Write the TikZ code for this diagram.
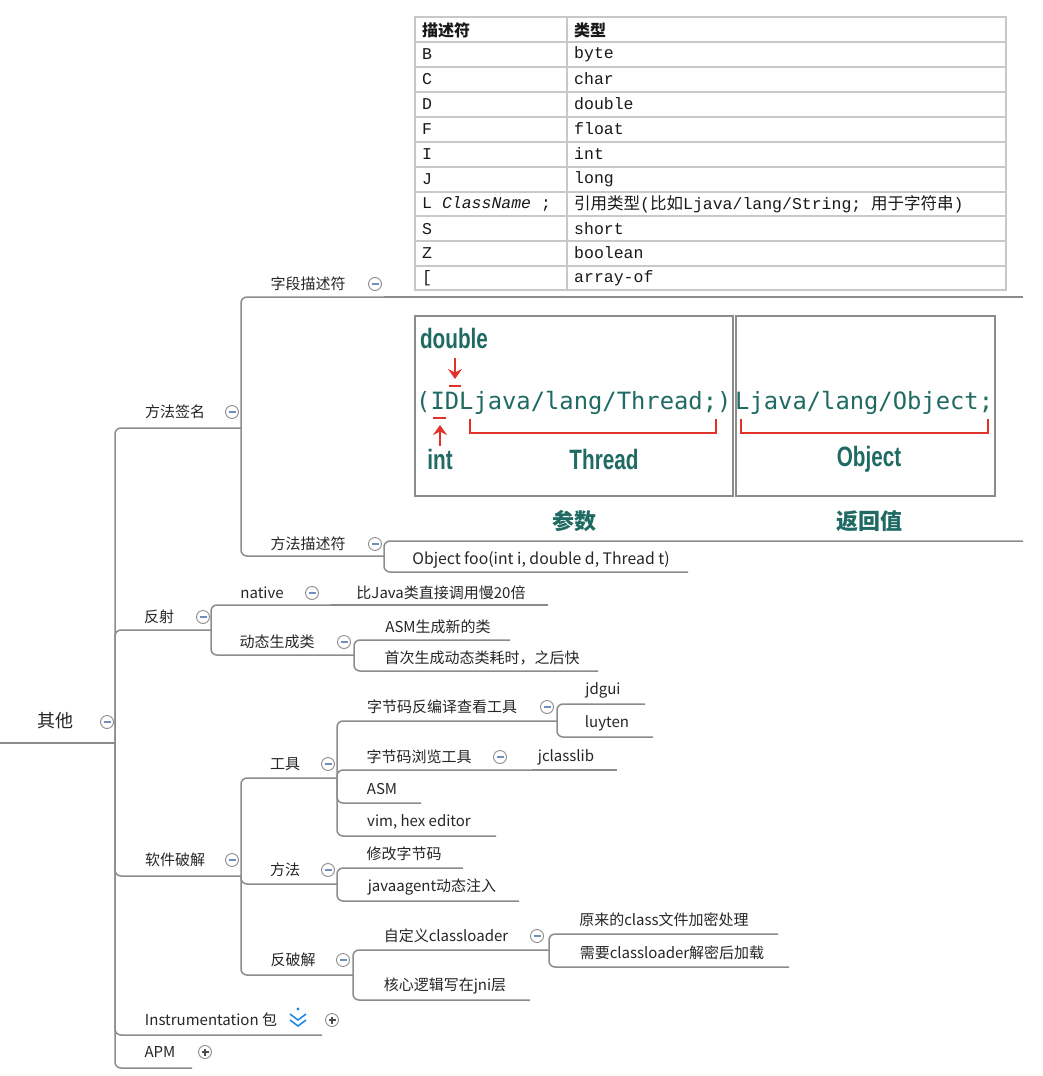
\documentclass[tikz,border=0pt]{standalone}
\usepackage{fontspec}
\setmainfont{Noto Sans CJK SC}
\newfontfamily\tabmono{Liberation Mono}
\newfontfamily\sigmono{DejaVu Sans Mono}
\newfontfamily\heavy{Liberation Sans}
\usepackage{tikz}
\usetikzlibrary{arrows, arrows.meta}
\definecolor{linegray}{HTML}{8C8C8C}
\definecolor{foldblue}{HTML}{6F8FBF}
\definecolor{sigteal}{HTML}{1F6B63}
\definecolor{sigred}{HTML}{E0322B}
\definecolor{tabline}{HTML}{C8C8C8}
\definecolor{iconblue}{HTML}{1E88E5}
\newcommand\sigword[1]{\scalebox{0.74}[1]{#1}}

\begin{document}
\begin{tikzpicture}[x=1pt, y=-1pt]
        \tikzset{topic/.style = {inner sep=0, text=black!85, font=\fontsize{15}{17}\selectfont}}
        \tikzset{link/.style = {draw=linegray, line width=1.5pt, rounded corners=6pt}}
        \tikzset{fold/.style = {shape=circle, draw=linegray, fill=white, line width=0.9pt, minimum size=13pt, inner sep=0,
            path picture={\draw[foldblue, line width=1.2pt] ([xshift=-3.5pt]path picture bounding box.center) -- ([xshift=3.5pt]path picture bounding box.center);}}}
        \tikzset{unfold/.style = {fold,
            path picture={\draw[black!70, line width=1.1pt] ([xshift=-3.5pt]path picture bounding box.center) -- ([xshift=3.5pt]path picture bounding box.center)
              ([yshift=-3.5pt]path picture bounding box.center) -- ([yshift=3.5pt]path picture bounding box.center);}}}
        \tikzset{cell/.style = {anchor=west, inner sep=0, text=black!90, font=\tabmono\fontsize{16.5}{18}\selectfont}}
        \tikzset{sigbold/.style = {inner sep=0, text=sigteal, font=\heavy\bfseries\fontsize{28}{30}\selectfont}}
        \tikzset{sigcode/.style = {anchor=west, inner sep=0, text=sigteal, font=\sigmono\fontsize{23.8}{26}\selectfont}}
        \tikzset{redline/.style = {draw=sigred, line width=2.6pt}}
        \tikzset{redarrow/.style = {redline, -{Stealth[length=10pt, width=14pt, inset=3.5pt]}}}

        \useasboundingbox (0,0) rectangle (1042,1076);
        \path[fill=white] (0,0) rectangle (1042,1076);

        % field descriptor table
        \draw[tabline, line width=1.5pt] (415,17) rectangle (1006,290) (567,17) -- (567,290)
          (415,42) -- (1006,42) (415,67) -- (1006,67) (415,92) -- (1006,92) (415,117) -- (1006,117)
          (415,142) -- (1006,142) (415,167) -- (1006,167) (415,192) -- (1006,192) (415,216) -- (1006,216)
          (415,241) -- (1006,241) (415,266) -- (1006,266);
        \node[cell, font=\bfseries\fontsize{16}{18}\selectfont] (h1) at (422,30) {描述符};
        \node[cell, font=\bfseries\fontsize{16}{18}\selectfont] (h2) at (574,30) {类型};
        \node[cell] (d1) at (422,54) {B};      \node[cell] (t1) at (574,54) {byte};
        \node[cell] (d2) at (422,79) {C};      \node[cell] (t2) at (574,79) {char};
        \node[cell] (d3) at (422,104) {D};     \node[cell] (t3) at (574,104) {double};
        \node[cell] (d4) at (422,129) {F};     \node[cell] (t4) at (574,129) {float};
        \node[cell] (d5) at (422,154) {I};     \node[cell] (t5) at (574,154) {int};
        \node[cell] (d6) at (422,179) {J};     \node[cell] (t6) at (574,179) {long};
        \node[cell] (d7) at (422,204) {L \textit{ClassName} ;};
        \node[cell] (t7) at (574,204) {{\rmfamily\fontsize{16.5}{18}\selectfont 引用类型}({\rmfamily\fontsize{16.5}{18}\selectfont 比如}Ljava/lang/String; {\rmfamily\fontsize{16.5}{18}\selectfont 用于字符串})};
        \node[cell] (d8) at (422,229) {S};     \node[cell] (t8) at (574,229) {short};
        \node[cell] (d9) at (422,253) {Z};     \node[cell] (t9) at (574,253) {boolean};
        \node[cell] (d10) at (422,278) {[};    \node[cell] (t10) at (574,278) {array-of};

        % method signature picture
        \draw[linegray, line width=2pt] (415,316) rectangle (733,496) (736,316) rectangle (995,496);
        \node[sigcode] (args) at (416,403) {(IDLjava/lang/Thread;)};
        \node[sigcode] (ret) at (735,403) {Ljava/lang/Object;};
        \node[sigbold] (wdouble) at (454,338) {\sigword{double}};
        \node[sigbold] (wint) at (440,459) {\sigword{int}};
        \node[sigbold] (wthread) at (604,459) {\sigword{Thread}};
        \node[sigbold] (wobject) at (869,459) {\sigword{Object}};
        \draw[redarrow] (455,358) -- (455,379);
        \draw[redline] (449,386) -- (461,386);
        \draw[redarrow] (440,446) -- (440,425);
        \draw[redline] (433,418) -- (446,418);
        \draw[redline] (470,419) -- (470,433) -- (716,433) -- (716,419);
        \draw[redline] (741,419) -- (741,433) -- (988,433) -- (988,419);
        \node[inner sep=0, text=sigteal, font=\bfseries\fontsize{22}{24}\selectfont] (wargs) at (574,521) {参数};
        \node[inner sep=0, text=sigteal, font=\bfseries\fontsize{22}{24}\selectfont] (wret) at (869,521) {返回值};

        % tree
        \coordinate (root-s) at (0,743);
        \coordinate (root-e) at (115,743);
        \coordinate (msig-e) at (241,428);
        \coordinate (field-e) at (384,297);
        \coordinate (table-e) at (1023,297);
        \coordinate (mdesc-e) at (384,556);
        \coordinate (pic-e) at (1023,541);
        \coordinate (foo-e) at (688,572);
        \coordinate (refl-e) at (211,630);
        \coordinate (native-e) at (330,605);
        \coordinate (slow-e) at (548,605);
        \coordinate (dyn-e) at (354,655);
        \coordinate (asmgen-e) at (510,640);
        \coordinate (first-e) at (598,671);
        \coordinate (crack-e) at (241,876);
        \coordinate (tools-e) at (337,778);
        \coordinate (decomp-e) at (557,721);
        \coordinate (jdgui-e) at (645,704);
        \coordinate (luyten-e) at (653,737);
        \coordinate (browse-e) at (532,770);
        \coordinate (jcl-e) at (617,770);
        \coordinate (asm-e) at (421,803);
        \coordinate (vim-e) at (496,836);
        \coordinate (method-e) at (337,884);
        \coordinate (modify-e) at (463,868);
        \coordinate (agent-e) at (519,901);
        \coordinate (anti-e) at (353,975);
        \coordinate (custom-e) at (549,950);
        \coordinate (encrypt-e) at (778,934);
        \coordinate (decrypt-e) at (789,967);
        \coordinate (jni-e) at (530,1000);
        \coordinate (instr-e) at (322,1035);
        \coordinate (apm-e) at (192,1068);

        \draw[link] (root-s) -- (root-e);
        \draw[link] (root-e) |- (msig-e);
        \draw[link] (root-e) |- (refl-e);
        \draw[link] (root-e) |- (crack-e);
        \draw[link] (root-e) |- (instr-e);
        \draw[link] (root-e) |- (apm-e);
        \draw[link] (msig-e) |- (field-e);
        \draw[link] (field-e) -- (table-e);
        \draw[link] (msig-e) |- (mdesc-e);
        \draw[link] (mdesc-e) |- (pic-e);
        \draw[link] (mdesc-e) |- (foo-e);
        \draw[link] (refl-e) |- (native-e);
        \draw[link] (native-e) -- (slow-e);
        \draw[link] (refl-e) |- (dyn-e);
        \draw[link] (dyn-e) |- (asmgen-e);
        \draw[link] (dyn-e) |- (first-e);
        \draw[link] (crack-e) |- (tools-e);
        \draw[link] (crack-e) |- (method-e);
        \draw[link] (crack-e) |- (anti-e);
        \draw[link] (tools-e) |- (decomp-e);
        \draw[link] (decomp-e) |- (jdgui-e);
        \draw[link] (decomp-e) |- (luyten-e);
        \draw[link] (tools-e) |- (browse-e);
        \draw[link] (browse-e) -- (jcl-e);
        \draw[link] (tools-e) |- (asm-e);
        \draw[link] (tools-e) |- (vim-e);
        \draw[link] (method-e) |- (modify-e);
        \draw[link] (method-e) |- (agent-e);
        \draw[link] (anti-e) |- (custom-e);
        \draw[link] (custom-e) |- (encrypt-e);
        \draw[link] (custom-e) |- (decrypt-e);
        \draw[link] (anti-e) |- (jni-e);

        \node[topic, font=\fontsize{18}{20}\selectfont] (root) at (55,721) {其他};
        \node[topic] (msig) at (175,412) {方法签名};
        \node[topic] (field) at (308,284) {字段描述符};
        \node[topic] (mdesc) at (308,544) {方法描述符};
        \node[topic, font=\fontsize{15.8}{17}\selectfont] (foo) at (541,560) {Object foo(int i, double d, Thread t)};
        \node[topic] (refl) at (159,617) {反射};
        \node[topic] (native) at (262,593) {native};
        \node[topic] (slow) at (441,593) {比Java类直接调用慢20倍};
        \node[topic] (dyn) at (277,642) {动态生成类};
        \node[topic] (asmgen) at (438,627) {ASM生成新的类};
        \node[topic] (first) at (482,658) {首次生成动态类耗时，之后快};
        \node[topic] (crack) at (175,860) {软件破解};
        \node[topic] (tools) at (285,764) {工具};
        \node[topic] (decomp) at (442,707) {字节码反编译查看工具};
        \node[topic] (jdgui) at (603,690) {jdgui};
        \node[topic] (luyten) at (607,723) {luyten};
        \node[topic] (browse) at (419,757) {字节码浏览工具};
        \node[topic] (jcl) at (566,757) {jclasslib};
        \node[topic] (asm) at (382,789) {ASM};
        \node[topic] (vim) at (419,822) {vim, hex editor};
        \node[topic] (method) at (285,870) {方法};
        \node[topic] (modify) at (404,854) {修改字节码};
        \node[topic] (agent) at (432,887) {javaagent动态注入};
        \node[topic] (anti) at (293,960) {反破解};
        \node[topic] (custom) at (446,936) {自定义classloader};
        \node[topic] (encrypt) at (664,920) {原来的class文件加密处理};
        \node[topic] (decrypt) at (672,953) {需要classloader解密后加载};
        \node[topic] (jni) at (445,986) {核心逻辑写在jni层};
        \node[topic] (instr) at (211,1020) {Instrumentation 包};
        \node[topic] (apm) at (160,1052) {APM};

        \node[fold] (root-f) at (107,722) {};
        \node[fold] (msig-f) at (232,412) {};
        \node[fold] (field-f) at (375,284) {};
        \node[fold] (mdesc-f) at (375,544) {};
        \node[fold] (refl-f) at (203,617) {};
        \node[fold] (native-f) at (312,593) {};
        \node[fold] (dyn-f) at (344,642) {};
        \node[fold] (crack-f) at (232,860) {};
        \node[fold] (tools-f) at (328,764) {};
        \node[fold] (decomp-f) at (547,707) {};
        \node[fold] (browse-f) at (500,757) {};
        \node[fold] (method-f) at (328,870) {};
        \node[fold] (anti-f) at (343,960) {};
        \node[fold] (custom-f) at (537,936) {};
        \node[unfold] (instr-f) at (332,1020) {};
        \node[unfold] (apm-f) at (205,1052) {};

        \draw[iconblue, line width=1.6pt] (290,1014) -- (298,1020) -- (306,1014) (290,1020) -- (298,1026) -- (306,1020);
        \fill[iconblue] (298,1009) circle (1.7);
\end{tikzpicture}
\end{document}
